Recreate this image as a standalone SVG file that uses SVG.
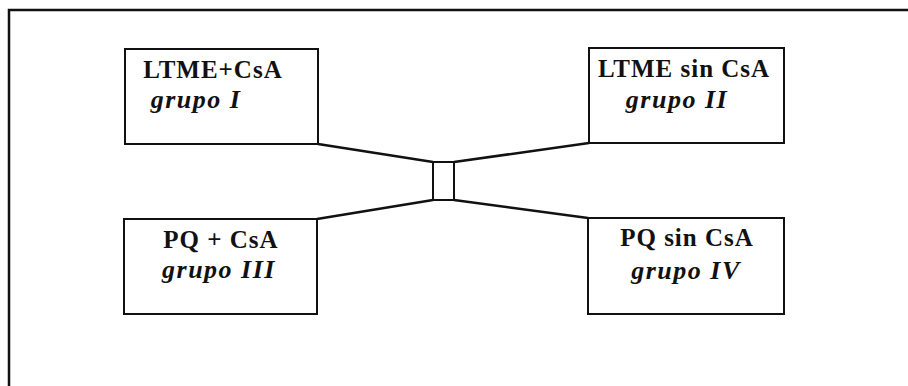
<svg xmlns="http://www.w3.org/2000/svg" width="908" height="386" viewBox="0 0 908 386">
<style>
.box{fill:#fff;stroke:#111;stroke-width:2}
.t1{font-family:"Liberation Serif","Times New Roman",serif;font-weight:bold;font-size:25px;letter-spacing:1px;fill:#111;text-anchor:middle}
.t2{font-family:"Liberation Serif","Times New Roman",serif;font-weight:bold;font-style:italic;font-size:26px;letter-spacing:1.5px;fill:#111;text-anchor:middle}
.ln{stroke:#111;stroke-width:2.5;fill:none}
</style>
<rect width="908" height="386" fill="#fff"/>
<g id="frame"><path class="ln" d="M9,386 V10 H908" stroke-width="2"/></g>
<g id="connectors">
<line class="ln" x1="318" y1="144" x2="433" y2="162"/>
<line class="ln" x1="589" y1="143" x2="454" y2="162"/>
<line class="ln" x1="317" y1="219" x2="433" y2="200"/>
<line class="ln" x1="588" y1="218" x2="454" y2="200"/>
</g>
<g id="hub"><rect class="box" x="433" y="162" width="21" height="38"/></g>
<g id="g1"><rect class="box" x="125" y="49" width="193" height="95"/>
<text class="t1" x="213" y="78">LTME+CsA</text>
<text class="t2" x="196" y="108">grupo I</text></g>
<g id="g2"><rect class="box" x="589" y="48" width="195" height="95"/>
<text class="t1" x="684" y="77">LTME sin CsA</text>
<text class="t2" x="677" y="108">grupo II</text></g>
<g id="g3"><rect class="box" x="124" y="219" width="193" height="95"/>
<text class="t1" x="221" y="248">PQ + CsA</text>
<text class="t2" x="219" y="278">grupo III</text></g>
<g id="g4"><rect class="box" x="588" y="218" width="196" height="96"/>
<text class="t1" x="687" y="246">PQ sin CsA</text>
<text class="t2" x="686" y="279">grupo IV</text></g>
</svg>
